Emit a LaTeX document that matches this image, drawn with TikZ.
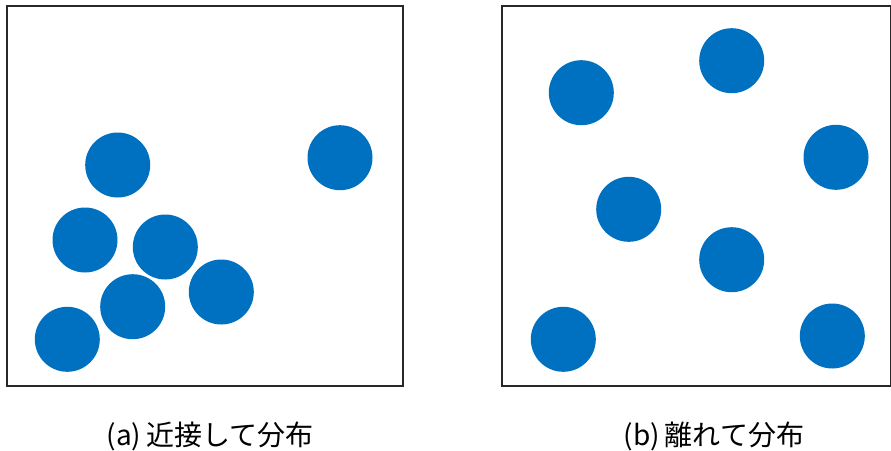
\documentclass[tikz,border=0pt]{standalone}
\usepackage{fontspec}
\newfontfamily\jpfont{Noto Sans CJK JP}
\usetikzlibrary{positioning}
\definecolor{dotBlue}{RGB}{0,112,192}
\definecolor{frameGray}{RGB}{40,40,40}

\begin{document}
\begin{tikzpicture}[x=0.75pt,y=-0.75pt,
    panel/.style={draw=frameGray,line width=0.9pt},
    caption/.style={font=\jpfont\fontsize{21}{25}\selectfont,inner sep=0pt}]
    \useasboundingbox (0,0) rectangle (891,450);

    % ── (a) 近接 ─────────────────────────────────────────
    \draw[panel] (7,6) rectangle (403,386);
    \foreach \x/\y in {117.7/165,340/157.7,85/240,165.3/247,
                       221.3/292,132.7/306.7,67.3/339.3}{
      \fill[dotBlue] (\x,\y) circle (32.5);
    }
    \node[caption] (capA) at (210,436){(a)\,近接して分布};

    % ── (b) 離れて ───────────────────────────────────────
    \draw[panel] (502,6) rectangle (890.5,386);
    \foreach \x/\y in {581.3/92.7,731.7/60.7,836/157.3,628.7/209.3,
                       731.7/259.7,563.3/339.3,832.3/336}{
      \fill[dotBlue] (\x,\y) circle (32.5);
    }
    \node[caption] (capB) at (714,436){(b)\,離れて分布};

  \end{tikzpicture}
\end{document}
